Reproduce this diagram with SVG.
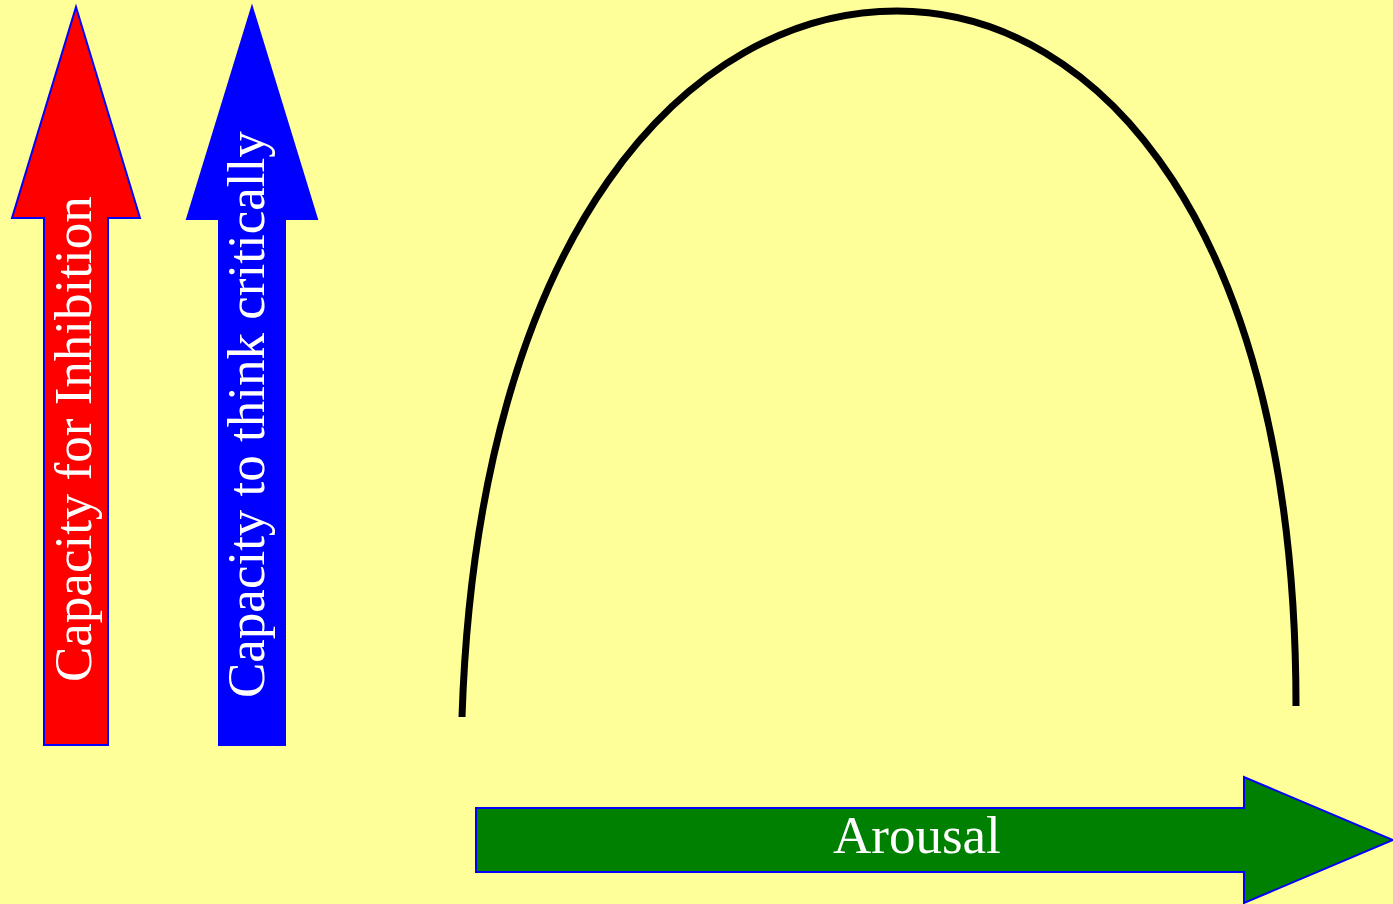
<svg xmlns="http://www.w3.org/2000/svg" width="1393" height="904" viewBox="0 0 1393 904">
<style>
.arrow{stroke:#0000ff;stroke-width:2}
.lbl{font-family:'Liberation Serif','Times New Roman',Times,serif;font-size:53px;fill:#ffffff}
</style>
<rect x="0" y="0" width="1393" height="904" fill="#ffff99"/>
<g id="inhibition">
<polygon class="arrow" fill="#ff0000" points="76,7 140,218 108,218 108,745 44,745 44,218 12,218"/>
<text class="lbl" font-family="Liberation Serif, serif" transform="translate(91,682) rotate(-90)">Capacity for Inhibition</text>
</g>
<g id="critical">
<polygon class="arrow" fill="#0000ff" points="252,7 317,219 285,219 285,745 219,745 219,219 187,219"/>
<text class="lbl" font-family="Liberation Serif, serif" transform="translate(264,698) rotate(-90)">Capacity to think critically</text>
</g>
<g id="arousal">
<polygon class="arrow" fill="#008000" points="476,808 1244,808 1244,777 1393,840 1244,903 1244,872 476,872"/>
<text class="lbl" font-family="Liberation Serif, serif" x="833" y="853">Arousal</text>
</g>
<g id="connectors">
<path d="M462,717 C478,230 690,11 897,11 C1100,11 1296,230 1296,706" fill="none" stroke="#000000" stroke-width="7"/>
</g>
</svg>
